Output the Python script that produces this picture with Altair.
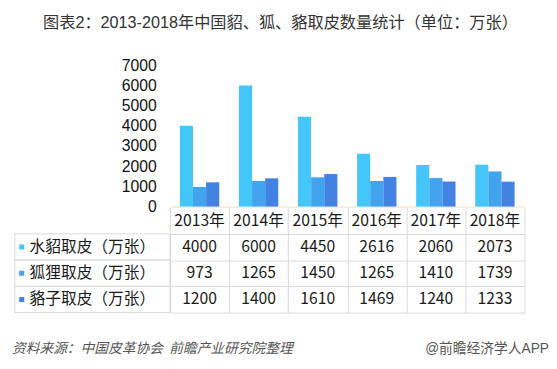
import altair as alt
import pandas as pd

years = ["2013年", "2014年", "2015年", "2016年", "2017年", "2018年"]
series = ["水貂取皮（万张）", "狐狸取皮（万张）", "貉子取皮（万张）"]
mink = [4000, 6000, 4450, 2616, 2060, 2073]
fox = [973, 1265, 1450, 1265, 1410, 1739]
raccoon = [1200, 1400, 1610, 1469, 1240, 1233]
colors = ["#44C6FA", "#42A4EE", "#4182E2"]
y_ticks = [0, 1000, 2000, 3000, 4000, 5000, 6000, 7000]
title = "图表2：2013-2018年中国貂、狐、貉取皮数量统计（单位：万张）"
source = "资料来源：中国皮革协会\u00a0\u00a0前瞻产业研究院整理"
credit = "@前瞻经济学人APP"

values = [mink, fox, raccoon]
rows_long = []
for s, vals in zip(series, values):
    for y, v in zip(years, vals):
        rows_long.append({"year": y, "series": s, "value": v})
df = pd.DataFrame(rows_long)

row_order = ["header"] + series
tbl = []
for y in years:
    tbl.append({"year": y, "row": "header", "label": y})
for s, vals in zip(series, values):
    for y, v in zip(years, vals):
        tbl.append({"year": y, "row": s, "label": str(v)})
tdf = pd.DataFrame(tbl)
ldf = pd.DataFrame({"row": series, "color": colors})
fdf = pd.DataFrame({"source": [source], "credit": [credit]})

W = 361
GRID = "#D9D9D9"
CJK = "Noto Sans CJK SC"
LAT = "Liberation Sans, Noto Sans CJK SC"

bars = alt.Chart(df).mark_bar().encode(
    x=alt.X("year:N", sort=years,
            scale=alt.Scale(paddingInner=1 / 3, paddingOuter=1 / 6),
            axis=alt.Axis(labels=False, ticks=False, domain=True,
                          domainColor="#F1DCC4", title=None)),
    xOffset=alt.XOffset("series:N", sort=series,
                        scale=alt.Scale(paddingInner=0, paddingOuter=0)),
    y=alt.Y("value:Q", scale=alt.Scale(domain=[0, 7000], nice=False),
            axis=alt.Axis(values=y_ticks, grid=False, domain=False, ticks=False,
                          labelPadding=14, labelFontSize=16, labelFont=LAT,
                          labelColor="#111111", format="d", title=None)),
    color=alt.Color("series:N", scale=alt.Scale(domain=series, range=colors),
                    legend=None),
).properties(width=W, height=144)

yenc = alt.Y("row:N", sort=row_order,
             scale=alt.Scale(domain=row_order, paddingInner=0, paddingOuter=0),
             axis=alt.Axis(values=series, labels=False, ticks=False, domain=False,
                           grid=True, tickBand="extent", gridColor=GRID, title=None))
xenc = alt.X("year:N", sort=years,
             scale=alt.Scale(domain=years, paddingInner=0, paddingOuter=0),
             axis=alt.Axis(labels=False, ticks=False, domain=False, grid=True,
                           tickBand="extent", gridColor=GRID, title=None))

cell_text = alt.Chart(tdf).mark_text(font=CJK, fontSize=16, color="#1a1a1a").encode(
    x=xenc, y=yenc, text="label:N")

lab_cells = alt.Chart(ldf).mark_rect(fillOpacity=0, stroke=GRID, strokeWidth=1).encode(
    x=alt.value(-158), x2=alt.value(0), y=yenc)
lab_sq = alt.Chart(ldf).mark_square(size=26, opacity=1).encode(
    x=alt.value(-151), y=yenc, color=alt.Color("color:N", scale=None))
lab_txt = alt.Chart(ldf).mark_text(font=CJK, fontSize=16, align="left",
                                   color="#1a1a1a").encode(
    x=alt.value(-143), y=yenc, text="row:N")

foot_src = alt.Chart(fdf).mark_text(font=CJK, fontSize=14, fontStyle="italic",
                                    align="left", color="#555555").encode(
    x=alt.value(-161), y=alt.value(144), text="source:N")
foot_cr = alt.Chart(fdf).mark_text(font=LAT, fontSize=14, align="right",
                                   color="#555555").encode(
    x=alt.value(386), y=alt.value(144), text="credit:N")

table = alt.layer(lab_cells, lab_sq, lab_txt, cell_text, foot_src, foot_cr).properties(
    width=W, height=107)

chart = alt.vconcat(bars, table, spacing=1, bounds="flush").properties(
    title=alt.TitleParams(text=title, fontSize=16.5, font=LAT, color="#333333",
                          fontWeight="normal", anchor="middle", offset=26),
    padding={"left": 4, "top": 4, "right": 0, "bottom": 0},
).configure_view(stroke=None)

chart.save("out.html", embed_options={"renderer": "svg", "actions": False})
